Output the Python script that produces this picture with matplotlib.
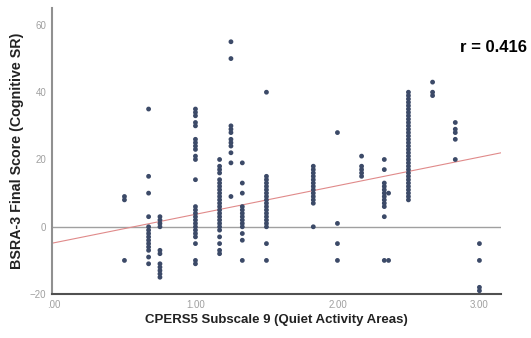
import numpy as np
import matplotlib.pyplot as plt

# score values, one list per subscale level
x_levels = [0.5, 0.67, 0.75, 1.0, 1.17, 1.25, 1.33, 1.5, 1.83, 2.0, 2.17, 2.33, 2.36, 2.5, 2.67, 2.83, 3.0]
y_values = [
    [9, 8, -10],
    [35, 15, 10, 3, 0, -1, -2, -3, -4, -5, -6, -7, -9, -11],
    [3, 2, 1, 0, -7, -8, -11, -12, -13, -14, -15],
    [35, 34, 33, 31, 30, 26, 25, 24, 23, 21, 20, 14, 6, 5, 4, 3, 2, 1, 0, -1, -2, -3, -5, -10, -11],
    [20, 18, 17, 16, 14, 13, 12, 11, 10, 9, 8, 7, 6, 5, 4, 3, 2, 1, 0, -1, -3, -5, -7, -8],
    [55, 50, 30, 29, 28, 26, 25, 24, 22, 19, 9],
    [19, 13, 10, 6, 5, 4, 3, 2, 1, 0, -2, -4, -10],
    [40, 15, 14, 13, 12, 11, 10, 9, 8, 7, 6, 5, 4, 3, 2, 1, 0, -5, -10],
    [18, 17, 16, 15, 14, 13, 12, 11, 10, 9, 8, 7, 0],
    [28, 1, -5, -10],
    [21, 18, 17, 16, 15],
    [20, 17, 13, 12, 11, 10, 9, 8, 7, 6, 3, -10],
    [10, -10],
    [40, 39, 38, 37, 36, 35, 34, 33, 32, 31, 30, 29, 28, 27, 26, 25, 24, 23, 22, 21,
     20, 19, 18, 17, 16, 15, 14, 13, 12, 11, 10, 9, 8],
    [43, 40, 39],
    [31, 29, 28, 26, 20],
    [-5, -10, -18, -19],
]

# fit line as drawn
fit_intercept = -4.8
fit_slope = 8.5
r_text = "r = 0.416"

x_ticks = [0, 1, 2, 3]
x_ticklabels = [".00", "1.00", "2.00", "3.00"]
y_ticks = [-20, 0, 20, 40, 60]

plt.rcParams['font.family'] = ['Liberation Sans', 'DejaVu Sans']

fig = plt.figure(figsize=(5.31, 3.38), dpi=100)
ax = fig.add_axes([0.098, 0.130, 0.845, 0.846])

xs = []
ys = []
for xv, col in zip(x_levels, y_values):
    xs += [xv] * len(col)
    ys += col

xlim = (-0.01, 3.15)
ax.axhline(0, color='#a0a0a0', lw=1.0, zorder=1)
line_x = np.array(xlim)
ax.plot(line_x, fit_intercept + fit_slope * line_x, color='#e08a8a', lw=0.8, zorder=2)
ax.scatter(xs, ys, s=12, color='#3c4a68', edgecolors='none', zorder=3)

ax.set_xlim(*xlim)
ax.set_ylim(-20, 65)
ax.set_xticks(x_ticks)
ax.set_xticklabels(x_ticklabels)
ax.set_yticks(y_ticks)
ax.tick_params(length=0, labelsize=7, labelcolor='#a0a0a0', pad=4)

ax.spines['top'].set_visible(False)
ax.spines['right'].set_visible(False)
ax.spines['left'].set_color('#909090')
ax.spines['left'].set_linewidth(1.5)
ax.spines['bottom'].set_color('#505050')
ax.spines['bottom'].set_linewidth(1.5)

ax.set_xlabel('CPERS5 Subscale 9 (Quiet Activity Areas)', fontsize=9.5, fontweight='bold', color='#222222', labelpad=3)
ax.set_ylabel('BSRA-3 Final Score (Cognitive SR)', fontsize=10.3, fontweight='bold', color='#222222', labelpad=4)

fig.text(0.993, 0.86, r_text, ha='right', va='center', fontsize=12, fontweight='bold')

fig.savefig('out.png', dpi=100)
